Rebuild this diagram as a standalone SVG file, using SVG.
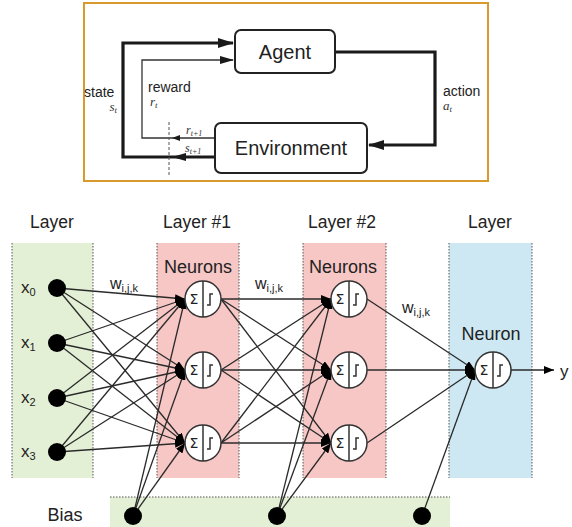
<svg xmlns="http://www.w3.org/2000/svg" width="572" height="527" viewBox="0 0 572 527">
  <style>
    .sans { font-family: "Liberation Sans", Arial, sans-serif; fill: #222; }
    .ital { font-family: "Liberation Serif", "Times New Roman", serif; font-style: italic; fill: #333; }
    .box { fill: #fff; stroke: #222; stroke-width: 2; }
    .thick { fill: none; stroke: #1a1a1a; stroke-width: 3.2; }
    .thin { fill: none; stroke: #333; stroke-width: 1.3; }
    .col { stroke: #555; stroke-width: 1; stroke-dasharray: 1.5 1.5; }
    .edge { stroke: #2a2a2a; stroke-width: 1.3; fill: none; }
    .neuron circle { fill: #fff; stroke: #333; stroke-width: 1.5; }
    .neuron line, .neuron path { stroke: #333; stroke-width: 1.5; fill: none; }
    .sigma { font-family: "DejaVu Sans", sans-serif; font-size: 14px; fill: #222; text-anchor: middle; }
    .dot { fill: #000; }
  </style>
  <defs>
    <marker id="bigHead" markerUnits="userSpaceOnUse" markerWidth="16" markerHeight="12" viewBox="0 0 16 12" refX="15" refY="6" orient="auto">
      <path d="M0,1 L16,6 L0,11 Z" fill="#1a1a1a"/>
    </marker>
    <marker id="smallHead" markerUnits="userSpaceOnUse" markerWidth="14" markerHeight="10" viewBox="0 0 14 10" refX="13" refY="5" orient="auto">
      <path d="M0,1 L14,5 L0,9 Z" fill="#1a1a1a"/>
    </marker>
    <marker id="tinyHead" markerUnits="userSpaceOnUse" markerWidth="8" markerHeight="6" viewBox="0 0 8 6" refX="8" refY="3" orient="auto">
      <path d="M0,0 L8,3 L0,6 Z" fill="#1a1a1a"/>
    </marker>
    <marker id="nnHead" markerUnits="userSpaceOnUse" markerWidth="10" markerHeight="8" viewBox="0 0 10 8" refX="10" refY="4" orient="auto">
      <path d="M0,0 L10,4 L0,8 Z" fill="#000"/>
    </marker>
  </defs>

  <!-- Reinforcement learning loop -->
  <rect x="84" y="3" width="404" height="178" fill="#fff" stroke="#d99a2b" stroke-width="2"/>

  <g id="connectors-rl">
    <!-- state -->
    <polyline class="thick" points="215,157 123,157 123,43 233,43" marker-end="url(#bigHead)"/>
    <line x1="215" y1="157" x2="173" y2="157" stroke="none" marker-end="url(#smallHead)"/>
    <!-- reward -->
    <polyline class="thin" points="215,138 142,138 142,60 233,60" marker-end="url(#smallHead)"/>
    <line x1="215" y1="138" x2="172" y2="138" stroke="none" marker-end="url(#tinyHead)"/>
    <!-- action -->
    <polyline class="thick" points="335,52 435,52 435,145 369,145" marker-end="url(#bigHead)"/>
    <!-- time step boundary -->
    <line x1="169" y1="122" x2="169" y2="175" stroke="#555" stroke-width="1" stroke-dasharray="3 2"/>
  </g>

  <g id="agent">
    <rect class="box" x="235" y="30" width="100" height="43" rx="6"/>
    <text class="sans" x="285" y="59" font-size="20" text-anchor="middle">Agent</text>
  </g>
  <g id="environment">
    <rect class="box" x="215" y="123" width="152" height="50" rx="6"/>
    <text class="sans" x="291" y="155" font-size="20" text-anchor="middle">Environment</text>
  </g>

  <g id="rl-labels">
    <text class="sans" x="84" y="97" font-size="14" fill="#444">state</text>
    <text class="ital" x="117" y="111" font-size="13" text-anchor="end">s<tspan font-size="9" dy="2">t</tspan></text>
    <text class="sans" x="148" y="92" font-size="14" fill="#444">reward</text>
    <text class="ital" x="150" y="106" font-size="13">r<tspan font-size="9" dy="2">t</tspan></text>
    <text class="sans" x="443" y="96" font-size="14" fill="#444">action</text>
    <text class="ital" x="443" y="110" font-size="13">a<tspan font-size="9" dy="2">t</tspan></text>
    <text class="ital" x="186" y="134" font-size="12">r<tspan font-size="8" dy="2">t+1</tspan></text>
    <text class="ital" x="185" y="152" font-size="12">s<tspan font-size="8" dy="2">t+1</tspan></text>
  </g>

  <!-- Neural network: layer columns -->
  <g id="columns">
    <rect x="12" y="243" width="81" height="235" fill="#e4f0d6"/>
    <line class="col" x1="12" y1="243" x2="12" y2="478"/>
    <line class="col" x1="93" y1="243" x2="93" y2="478"/>
    <rect x="157" y="243" width="82" height="235" fill="#f6c7c5"/>
    <line class="col" x1="157" y1="243" x2="157" y2="478"/>
    <line class="col" x1="239" y1="243" x2="239" y2="478"/>
    <rect x="303" y="243" width="83" height="235" fill="#f6c7c5"/>
    <line class="col" x1="303" y1="243" x2="303" y2="478"/>
    <line class="col" x1="386" y1="243" x2="386" y2="478"/>
    <rect x="449" y="243" width="83" height="235" fill="#cde8f2"/>
    <line class="col" x1="449" y1="243" x2="449" y2="478"/>
    <line class="col" x1="532" y1="243" x2="532" y2="478"/>
    <rect x="110" y="497" width="340" height="30" fill="#e4f0d6"/>
    <line class="col" x1="110" y1="497" x2="450" y2="497"/>
  </g>

  <g id="titles">
    <text class="sans" x="52" y="228" font-size="17.5" text-anchor="middle">Layer</text>
    <text class="sans" x="197" y="228" font-size="17.5" text-anchor="middle">Layer #1</text>
    <text class="sans" x="342" y="228" font-size="17.5" text-anchor="middle">Layer #2</text>
    <text class="sans" x="490" y="228" font-size="17.5" text-anchor="middle">Layer</text>
    <text class="sans" x="198" y="273" font-size="18" text-anchor="middle">Neurons</text>
    <text class="sans" x="343" y="273" font-size="18" text-anchor="middle">Neurons</text>
    <text class="sans" x="491" y="340" font-size="18" text-anchor="middle">Neuron</text>
    <text class="sans" x="110" y="289" font-size="16">w<tspan font-size="11" dy="3">i,j,k</tspan></text>
    <text class="sans" x="255" y="289" font-size="16">w<tspan font-size="11" dy="3">i,j,k</tspan></text>
    <text class="sans" x="402" y="313" font-size="16">w<tspan font-size="11" dy="3">i,j,k</tspan></text>
    <text class="sans" x="65" y="521" font-size="18" text-anchor="middle">Bias</text>
    <text class="sans" x="560" y="377" font-size="17">y</text>
  </g>

  <!-- Weighted connections -->
  <g id="connectors-nn" class="edge">
    <!-- inputs to layer 1 -->
    <line x1="57" y1="288" x2="185" y2="299" marker-end="url(#nnHead)"/>
    <line x1="57" y1="288" x2="185" y2="370" marker-end="url(#nnHead)"/>
    <line x1="57" y1="288" x2="185" y2="443" marker-end="url(#nnHead)"/>
    <line x1="57" y1="343" x2="185" y2="299" marker-end="url(#nnHead)"/>
    <line x1="57" y1="343" x2="185" y2="370" marker-end="url(#nnHead)"/>
    <line x1="57" y1="343" x2="185" y2="443" marker-end="url(#nnHead)"/>
    <line x1="57" y1="398" x2="185" y2="299" marker-end="url(#nnHead)"/>
    <line x1="57" y1="398" x2="185" y2="370" marker-end="url(#nnHead)"/>
    <line x1="57" y1="398" x2="185" y2="443" marker-end="url(#nnHead)"/>
    <line x1="57" y1="452" x2="185" y2="299" marker-end="url(#nnHead)"/>
    <line x1="57" y1="452" x2="185" y2="370" marker-end="url(#nnHead)"/>
    <line x1="57" y1="452" x2="185" y2="443" marker-end="url(#nnHead)"/>
    <!-- bias to layer 1 -->
    <line x1="133" y1="516" x2="185" y2="299" marker-end="url(#nnHead)"/>
    <line x1="133" y1="516" x2="185" y2="370" marker-end="url(#nnHead)"/>
    <line x1="133" y1="516" x2="185" y2="443" marker-end="url(#nnHead)"/>
    <!-- layer 1 to layer 2 -->
    <line x1="221" y1="299" x2="331" y2="299" marker-end="url(#nnHead)"/>
    <line x1="221" y1="299" x2="331" y2="370" marker-end="url(#nnHead)"/>
    <line x1="221" y1="299" x2="331" y2="443" marker-end="url(#nnHead)"/>
    <line x1="221" y1="370" x2="331" y2="299" marker-end="url(#nnHead)"/>
    <line x1="221" y1="370" x2="331" y2="370" marker-end="url(#nnHead)"/>
    <line x1="221" y1="370" x2="331" y2="443" marker-end="url(#nnHead)"/>
    <line x1="221" y1="443" x2="331" y2="299" marker-end="url(#nnHead)"/>
    <line x1="221" y1="443" x2="331" y2="370" marker-end="url(#nnHead)"/>
    <line x1="221" y1="443" x2="331" y2="443" marker-end="url(#nnHead)"/>
    <!-- bias to layer 2 -->
    <line x1="277" y1="516" x2="331" y2="299" marker-end="url(#nnHead)"/>
    <line x1="277" y1="516" x2="331" y2="370" marker-end="url(#nnHead)"/>
    <line x1="277" y1="516" x2="331" y2="443" marker-end="url(#nnHead)"/>
    <!-- layer 2 to output -->
    <line x1="367" y1="299" x2="475" y2="370" marker-end="url(#nnHead)"/>
    <line x1="367" y1="370" x2="475" y2="370" marker-end="url(#nnHead)"/>
    <line x1="367" y1="443" x2="475" y2="370" marker-end="url(#nnHead)"/>
    <line x1="422" y1="516" x2="475" y2="370" marker-end="url(#nnHead)"/>
    <!-- output -->
    <line x1="511" y1="370" x2="554" y2="370" marker-end="url(#nnHead)"/>
  </g>

  <!-- Input and bias nodes -->
  <g id="x0"><circle class="dot" cx="57" cy="288" r="9"/><text class="sans" x="21" y="293" font-size="17">x<tspan font-size="11" dy="3">0</tspan></text></g>
  <g id="x1"><circle class="dot" cx="57" cy="343" r="9"/><text class="sans" x="21" y="348" font-size="17">x<tspan font-size="11" dy="3">1</tspan></text></g>
  <g id="x2"><circle class="dot" cx="57" cy="398" r="9"/><text class="sans" x="21" y="403" font-size="17">x<tspan font-size="11" dy="3">2</tspan></text></g>
  <g id="x3"><circle class="dot" cx="57" cy="452" r="9"/><text class="sans" x="21" y="457" font-size="17">x<tspan font-size="11" dy="3">3</tspan></text></g>
  <g id="bias1"><circle class="dot" cx="133" cy="516" r="9"/></g>
  <g id="bias2"><circle class="dot" cx="277" cy="516" r="9"/></g>
  <g id="bias3"><circle class="dot" cx="422" cy="516" r="9"/></g>

  <!-- Neurons: summation and step activation -->
  <g id="n11" class="neuron"><circle cx="203" cy="299" r="18"/><line x1="203" y1="281" x2="203" y2="317"/><text class="sigma" x="194" y="304">Σ</text><path d="M207,305 h3 v-11 h3"/></g>
  <g id="n12" class="neuron"><circle cx="203" cy="370" r="18"/><line x1="203" y1="352" x2="203" y2="388"/><text class="sigma" x="194" y="375">Σ</text><path d="M207,376 h3 v-11 h3"/></g>
  <g id="n13" class="neuron"><circle cx="203" cy="443" r="18"/><line x1="203" y1="425" x2="203" y2="461"/><text class="sigma" x="194" y="448">Σ</text><path d="M207,449 h3 v-11 h3"/></g>
  <g id="n21" class="neuron"><circle cx="349" cy="299" r="18"/><line x1="349" y1="281" x2="349" y2="317"/><text class="sigma" x="340" y="304">Σ</text><path d="M353,305 h3 v-11 h3"/></g>
  <g id="n22" class="neuron"><circle cx="349" cy="370" r="18"/><line x1="349" y1="352" x2="349" y2="388"/><text class="sigma" x="340" y="375">Σ</text><path d="M353,376 h3 v-11 h3"/></g>
  <g id="n23" class="neuron"><circle cx="349" cy="443" r="18"/><line x1="349" y1="425" x2="349" y2="461"/><text class="sigma" x="340" y="448">Σ</text><path d="M353,449 h3 v-11 h3"/></g>
  <g id="out" class="neuron"><circle cx="493" cy="370" r="18"/><line x1="493" y1="352" x2="493" y2="388"/><text class="sigma" x="484" y="375">Σ</text><path d="M497,376 h3 v-11 h3"/></g>
</svg>
